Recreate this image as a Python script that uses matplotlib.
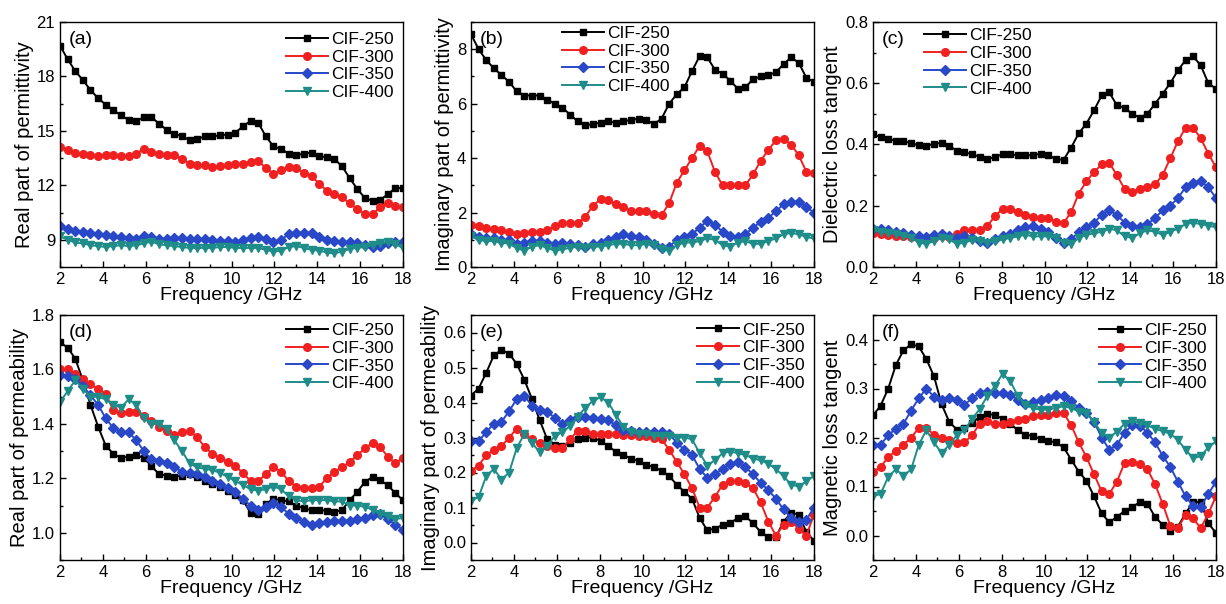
import numpy as np
import matplotlib
matplotlib.use("Agg")
from matplotlib import pyplot as plt
from matplotlib.ticker import MultipleLocator, AutoMinorLocator, FormatStrFormatter

plt.rcParams['font.family'] = ['Liberation Sans', 'DejaVu Sans']

## frequency points 2 - 18 GHz
freq = np.linspace(2, 18, 46)
samples = ['CIF-250', 'CIF-300', 'CIF-350', 'CIF-400']

## (a) real part of permittivity
a_250 = [19.7, 18.95, 18.3, 17.8, 17.25, 16.8, 16.45, 16.15, 15.85, 15.6, 15.55, 15.75, 15.75, 15.4, 15.05,
         14.85, 14.7, 14.5, 14.55, 14.7, 14.7, 14.75, 14.8, 14.9, 15.25, 15.55, 15.45, 14.7, 14.15, 14.0,
         13.75, 13.65, 13.75, 13.8, 13.6, 13.55, 13.45, 13.05, 12.4, 11.8, 11.3, 11.15, 11.2, 11.5, 11.85, 11.85]
a_300 = [14.1, 13.95, 13.8, 13.7, 13.65, 13.6, 13.65, 13.65, 13.6, 13.6, 13.75, 14.0, 13.85, 13.7, 13.65,
         13.65, 13.45, 13.2, 13.1, 13.1, 13.0, 13.05, 13.1, 13.15, 13.2, 13.3, 13.35, 12.95, 12.65, 12.85,
         13.0, 12.95, 12.7, 12.5, 12.1, 11.7, 11.5, 11.35, 11.0, 10.7, 10.4, 10.4, 10.8, 11.0, 10.85, 10.8]
a_350 = [9.75, 9.6, 9.5, 9.45, 9.35, 9.3, 9.25, 9.2, 9.15, 9.1, 9.05, 9.2, 9.15, 9.05, 9.05, 9.1, 9.1, 9.05,
         9.05, 9.05, 9.0, 8.95, 8.95, 8.9, 9.0, 9.1, 9.15, 9.05, 8.85, 9.0, 9.3, 9.4, 9.4, 9.4, 9.15, 9.0,
         8.95, 8.9, 8.85, 8.8, 8.7, 8.6, 8.65, 8.8, 8.85, 8.85]
a_400 = [9.2, 9.0, 8.85, 8.8, 8.7, 8.65, 8.6, 8.65, 8.7, 8.65, 8.7, 8.8, 8.9, 8.75, 8.7, 8.65, 8.6, 8.55,
         8.55, 8.55, 8.55, 8.6, 8.6, 8.55, 8.55, 8.55, 8.55, 8.45, 8.35, 8.4, 8.6, 8.65, 8.55, 8.45, 8.4, 8.3,
         8.25, 8.35, 8.5, 8.55, 8.6, 8.7, 8.8, 8.85, 8.75, 8.55]

## (b) imaginary part of permittivity
b_250 = [8.55, 8.0, 7.6, 7.3, 7.05, 6.8, 6.45, 6.3, 6.3, 6.3, 6.15, 6.0, 5.85, 5.6, 5.35, 5.2, 5.25, 5.3,
         5.35, 5.3, 5.35, 5.4, 5.45, 5.4, 5.25, 5.45, 6.0, 6.35, 6.6, 7.2, 7.75, 7.7, 7.25, 7.1, 6.85, 6.55,
         6.6, 6.9, 7.0, 7.05, 7.15, 7.45, 7.7, 7.5, 6.95, 6.8]
b_300 = [1.55, 1.5, 1.45, 1.4, 1.35, 1.3, 1.2, 1.25, 1.3, 1.3, 1.35, 1.5, 1.6, 1.6, 1.6, 1.85, 2.25, 2.5,
         2.45, 2.3, 2.2, 2.05, 2.05, 2.05, 1.95, 1.9, 2.35, 3.1, 3.55, 4.0, 4.45, 4.25, 3.5, 3.0, 3.0, 3.0,
         3.0, 3.4, 3.9, 4.3, 4.65, 4.7, 4.5, 4.1, 3.5, 3.45]
b_350 = [1.2, 1.1, 1.05, 1.05, 1.0, 1.0, 0.85, 0.9, 0.95, 0.95, 0.9, 0.85, 0.9, 0.85, 0.8, 0.75, 0.85, 0.9,
         1.0, 1.1, 1.2, 1.15, 1.1, 1.0, 0.85, 0.7, 0.75, 1.0, 1.1, 1.2, 1.45, 1.7, 1.55, 1.3, 1.15, 1.1, 1.2,
         1.45, 1.65, 1.8, 2.05, 2.3, 2.4, 2.4, 2.2, 2.0]
b_400 = [1.15, 1.0, 0.95, 0.95, 0.9, 0.85, 0.7, 0.6, 0.75, 0.8, 0.7, 0.6, 0.65, 0.7, 0.75, 0.7, 0.75, 0.75,
         0.8, 0.85, 0.85, 0.8, 0.8, 0.85, 0.8, 0.65, 0.6, 0.8, 0.9, 0.9, 0.95, 1.05, 1.0, 0.8, 0.75, 0.9,
         0.95, 0.85, 0.85, 0.95, 1.05, 1.2, 1.25, 1.2, 1.1, 1.05]

## (c) dielectric loss tangent
c_250 = [0.433, 0.425, 0.417, 0.413, 0.41, 0.405, 0.397, 0.395, 0.403, 0.405, 0.395, 0.38, 0.375, 0.368,
         0.36, 0.352, 0.36, 0.368, 0.368, 0.365, 0.365, 0.365, 0.37, 0.365, 0.352, 0.35, 0.39, 0.437, 0.468,
         0.512, 0.56, 0.57, 0.528, 0.52, 0.5, 0.488, 0.5, 0.533, 0.566, 0.6, 0.642, 0.675, 0.688, 0.658,
         0.6, 0.582]
c_300 = [0.11, 0.108, 0.105, 0.102, 0.1, 0.098, 0.095, 0.09, 0.095, 0.1, 0.098, 0.108, 0.12, 0.12, 0.122,
         0.135, 0.165, 0.19, 0.19, 0.178, 0.17, 0.163, 0.16, 0.16, 0.148, 0.143, 0.18, 0.24, 0.28, 0.31,
         0.335, 0.34, 0.3, 0.255, 0.245, 0.255, 0.26, 0.27, 0.3, 0.355, 0.41, 0.455, 0.455, 0.42, 0.37, 0.325]
c_350 = [0.125, 0.125, 0.12, 0.115, 0.112, 0.105, 0.1, 0.098, 0.105, 0.108, 0.102, 0.095, 0.1, 0.095, 0.085,
         0.08, 0.09, 0.1, 0.108, 0.12, 0.13, 0.135, 0.125, 0.115, 0.095, 0.08, 0.09, 0.115, 0.13, 0.145,
         0.17, 0.185, 0.17, 0.145, 0.135, 0.13, 0.14, 0.16, 0.185, 0.2, 0.225, 0.26, 0.275, 0.28, 0.26, 0.225]
c_400 = [0.12, 0.115, 0.112, 0.108, 0.102, 0.095, 0.08, 0.075, 0.085, 0.095, 0.09, 0.075, 0.08, 0.088,
         0.085, 0.08, 0.085, 0.09, 0.095, 0.1, 0.105, 0.1, 0.1, 0.1, 0.095, 0.08, 0.075, 0.095, 0.105, 0.11,
         0.115, 0.125, 0.12, 0.1, 0.095, 0.11, 0.12, 0.115, 0.105, 0.115, 0.125, 0.14, 0.145, 0.14, 0.135, 0.13]

## (d) real part of permeability
d_250 = [1.70, 1.68, 1.64, 1.56, 1.47, 1.39, 1.32, 1.29, 1.275, 1.28, 1.285, 1.275, 1.245, 1.215, 1.21,
         1.205, 1.21, 1.215, 1.205, 1.19, 1.18, 1.17, 1.155, 1.14, 1.12, 1.073, 1.07, 1.105, 1.125, 1.12,
         1.115, 1.1, 1.09, 1.083, 1.085, 1.08, 1.077, 1.083, 1.12, 1.15, 1.187, 1.205, 1.193, 1.175, 1.145, 1.12]
d_300 = [1.60, 1.60, 1.585, 1.565, 1.545, 1.53, 1.51, 1.45, 1.44, 1.445, 1.445, 1.43, 1.41, 1.39, 1.375,
         1.36, 1.37, 1.375, 1.35, 1.315, 1.29, 1.275, 1.26, 1.245, 1.22, 1.19, 1.19, 1.215, 1.24, 1.225,
         1.19, 1.17, 1.165, 1.165, 1.17, 1.2, 1.225, 1.24, 1.26, 1.285, 1.31, 1.33, 1.315, 1.28, 1.255, 1.275]
d_350 = [1.58, 1.575, 1.565, 1.54, 1.505, 1.47, 1.42, 1.385, 1.37, 1.37, 1.34, 1.3, 1.27, 1.265, 1.255,
         1.24, 1.225, 1.22, 1.215, 1.205, 1.19, 1.18, 1.165, 1.15, 1.125, 1.1, 1.085, 1.095, 1.11, 1.095,
         1.07, 1.055, 1.04, 1.03, 1.035, 1.04, 1.045, 1.045, 1.045, 1.05, 1.055, 1.065, 1.07, 1.05, 1.03, 1.01]
d_400 = [1.48, 1.52, 1.56, 1.53, 1.5, 1.5, 1.49, 1.47, 1.46, 1.49, 1.47, 1.42, 1.4, 1.4, 1.38, 1.34, 1.3,
         1.255, 1.24, 1.235, 1.23, 1.22, 1.205, 1.19, 1.175, 1.16, 1.155, 1.16, 1.17, 1.16, 1.135, 1.12,
         1.115, 1.12, 1.12, 1.12, 1.115, 1.115, 1.1, 1.1, 1.095, 1.085, 1.07, 1.06, 1.05, 1.055]

## (e) imaginary part of permeability
e_250 = [0.42, 0.44, 0.485, 0.535, 0.55, 0.54, 0.51, 0.465, 0.41, 0.35, 0.295, 0.28, 0.275, 0.285, 0.295,
         0.3, 0.3, 0.29, 0.275, 0.26, 0.25, 0.24, 0.232, 0.222, 0.215, 0.205, 0.19, 0.165, 0.145, 0.125,
         0.07, 0.035, 0.04, 0.05, 0.055, 0.07, 0.075, 0.055, 0.03, 0.015, 0.015, 0.06, 0.085, 0.08, 0.03, 0.005]
e_300 = [0.205, 0.22, 0.25, 0.265, 0.275, 0.3, 0.325, 0.31, 0.295, 0.283, 0.275, 0.27, 0.27, 0.295, 0.32,
         0.318, 0.31, 0.31, 0.31, 0.31, 0.308, 0.307, 0.305, 0.303, 0.3, 0.295, 0.265, 0.23, 0.195, 0.155,
         0.1, 0.1, 0.13, 0.165, 0.175, 0.175, 0.17, 0.155, 0.115, 0.06, 0.02, 0.05, 0.06, 0.04, 0.02, 0.08]
e_350 = [0.29, 0.29, 0.315, 0.34, 0.345, 0.375, 0.41, 0.42, 0.39, 0.378, 0.372, 0.357, 0.34, 0.35, 0.36,
         0.36, 0.357, 0.353, 0.35, 0.335, 0.322, 0.318, 0.315, 0.315, 0.315, 0.315, 0.31, 0.285, 0.265, 0.25,
         0.21, 0.185, 0.195, 0.21, 0.225, 0.23, 0.215, 0.195, 0.17, 0.15, 0.125, 0.095, 0.07, 0.06, 0.065, 0.1]
e_400 = [0.12, 0.13, 0.19, 0.21, 0.18, 0.2, 0.27, 0.31, 0.285, 0.258, 0.276, 0.305, 0.315, 0.333, 0.36,
         0.385, 0.405, 0.415, 0.4, 0.365, 0.33, 0.315, 0.31, 0.31, 0.305, 0.305, 0.305, 0.3, 0.3, 0.295,
         0.255, 0.22, 0.235, 0.255, 0.26, 0.255, 0.25, 0.24, 0.235, 0.225, 0.21, 0.19, 0.165, 0.16, 0.175, 0.19]

## (f) magnetic loss tangent
f_250 = [0.245, 0.265, 0.3, 0.348, 0.378, 0.39, 0.386, 0.36, 0.325, 0.268, 0.232, 0.216, 0.219, 0.23,
         0.242, 0.248, 0.246, 0.238, 0.228, 0.215, 0.206, 0.203, 0.197, 0.193, 0.19, 0.18, 0.155, 0.13,
         0.112, 0.08, 0.045, 0.027, 0.038, 0.05, 0.058, 0.068, 0.065, 0.038, 0.022, 0.01, 0.018, 0.045,
         0.068, 0.068, 0.025, 0.005]
f_300 = [0.13, 0.14, 0.16, 0.173, 0.185, 0.2, 0.219, 0.219, 0.206, 0.198, 0.194, 0.189, 0.19, 0.205, 0.228,
         0.233, 0.228, 0.228, 0.232, 0.235, 0.238, 0.243, 0.245, 0.246, 0.25, 0.25, 0.225, 0.19, 0.16, 0.125,
         0.09, 0.085, 0.11, 0.148, 0.15, 0.145, 0.135, 0.105, 0.065, 0.02, 0.015, 0.042, 0.035, 0.015, 0.045, 0.08]
f_350 = [0.185, 0.185, 0.205, 0.218, 0.228, 0.255, 0.28, 0.3, 0.283, 0.277, 0.28, 0.277, 0.267, 0.28, 0.29,
         0.293, 0.29, 0.29, 0.287, 0.277, 0.268, 0.272, 0.276, 0.28, 0.286, 0.285, 0.275, 0.26, 0.25, 0.232,
         0.2, 0.175, 0.185, 0.21, 0.225, 0.224, 0.21, 0.19, 0.163, 0.14, 0.11, 0.08, 0.06, 0.058, 0.085, 0.11]
f_400 = [0.08, 0.085, 0.12, 0.135, 0.122, 0.135, 0.185, 0.215, 0.19, 0.168, 0.185, 0.205, 0.215, 0.238,
         0.258, 0.285, 0.305, 0.33, 0.315, 0.285, 0.266, 0.26, 0.257, 0.257, 0.26, 0.264, 0.26, 0.253, 0.25,
         0.232, 0.209, 0.2, 0.212, 0.228, 0.233, 0.23, 0.225, 0.218, 0.213, 0.208, 0.195, 0.175, 0.158,
         0.162, 0.18, 0.192]

colors = ['#000000', '#f02020', '#2848c8', '#1e8c88']
markers = ['s', 'o', 'D', 'v']
msizes = [5, 5.5, 5, 5.5]

## one entry per panel: tag, y label, series, ylim, major step, tick format, legend anchor
panels = [
    ('(a)', 'Real part of permittivity', [a_250, a_300, a_350, a_400], (7.5, 21), 3, '%d', (0.66, 0.96)),
    ('(b)', 'Imaginary part of permittivity', [b_250, b_300, b_350, b_400], (0, 9), 2, '%d', (0.265, 0.985)),
    ('(c)', 'Dielectric loss tangent', [c_250, c_300, c_350, c_400], (0, 0.8), 0.2, '%.1f', (0.15, 0.975)),
    ('(d)', 'Real part of permeability', [d_250, d_300, d_350, d_400], (0.9, 1.8), 0.2, '%.1f', (0.66, 0.968)),
    ('(e)', 'Imaginary part of permeability', [e_250, e_300, e_350, e_400], (-0.05, 0.65), 0.1, '%.1f', (0.66, 0.97)),
    ('(f)', 'Magnetic loss tangent', [f_250, f_300, f_350, f_400], (-0.05, 0.45), 0.1, '%.1f', (0.66, 0.968)),
]

lefts = [60, 471, 873]
tops = [22, 315]

fig = plt.figure(figsize=(12.26, 6.04), dpi=100)

for i, (tag, ylab, series, ylim, step, fmt, anchor) in enumerate(panels):
    left = lefts[i % 3] / 1226
    bottom = (604 - tops[i // 3] - 245) / 604
    ax = fig.add_axes([left, bottom, 343 / 1226, 245 / 604])

    for ys, lab, c, m, ms in zip(series, samples, colors, markers, msizes):
        ax.plot(freq, ys, color=c, marker=m, markersize=ms, linewidth=1.4, label=lab)

    ax.set_xlim(2, 18)
    ax.set_ylim(*ylim)
    ax.xaxis.set_major_locator(MultipleLocator(2))
    ax.xaxis.set_minor_locator(MultipleLocator(1))
    ax.yaxis.set_major_locator(MultipleLocator(step))
    ax.yaxis.set_minor_locator(AutoMinorLocator(2))
    ax.yaxis.set_major_formatter(FormatStrFormatter(fmt))
    ax.tick_params(which='both', direction='in', labelsize=12, width=1)
    ax.tick_params(which='major', length=4)
    ax.tick_params(which='minor', length=2.5)
    for s in ax.spines.values():
        s.set_linewidth(1)

    ax.set_xlabel('Frequency /GHz', fontsize=14, labelpad=0)
    ax.set_ylabel(ylab, fontsize=14.5, labelpad=2)
    ax.text(0.025, 0.93, tag, transform=ax.transAxes, fontsize=14, va='center', ha='left')

    ax.legend(loc='upper left', bbox_to_anchor=anchor, frameon=False, fontsize=12.5,
              handlelength=2.4, handletextpad=0.2, labelspacing=0.15,
              borderpad=0, borderaxespad=0)

fig.savefig('out.png', dpi=100)
